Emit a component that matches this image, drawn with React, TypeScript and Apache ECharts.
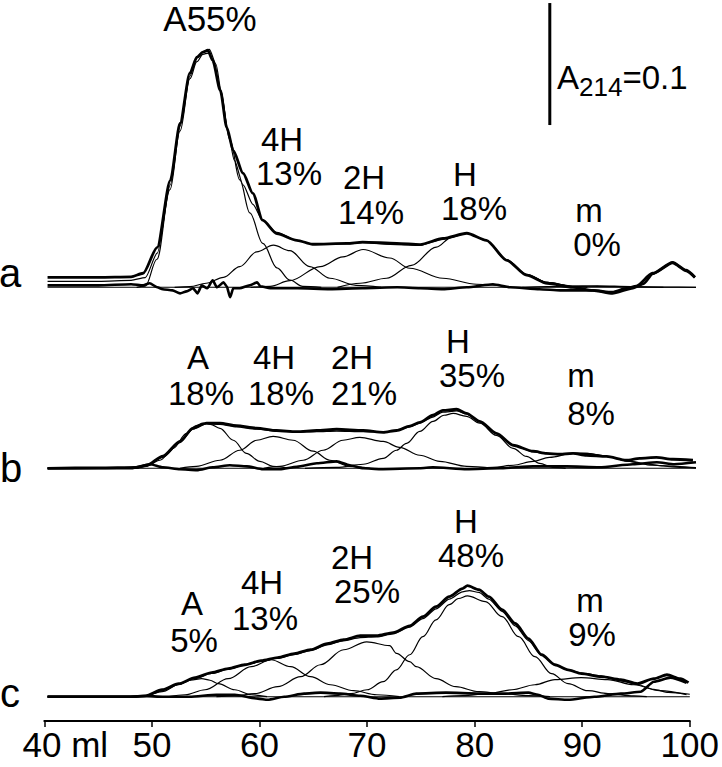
import React, { useEffect, useRef } from "react";
import * as echarts from "echarts";

// ---------- data (x: elution volume, ml; y: A214 in milli-absorbance units) ----------
const xTicks = [40, 50, 60, 70, 80, 90, 100];
const peakNames = ["A", "4H", "2H", "H", "m"];
const panelNames = ["a", "b", "c"];
const pctA = [55, 13, 14, 18, 0];
const pctB = [18, 18, 21, 35, 8];
const pctC = [5, 13, 25, 48, 9];
const scaleBar = [[86.54, 133], [86.54, 233]]; // A214 = 0.1 (100 mAU)
const baselineSpan = [[40.3, 0], [100, 0]];

// panel a
const aTotal = [[40.3,8.2],[45,8.2],[48,8.6],[49.1,11.5],[50.4,32.8],[51.6,87.7],[52.5,134.5],[53.4,175.5],[54.05,188.6],[54.6,192.7],[55.06,194.3],[55.5,186],[56.2,161.5],[56.8,131],[57.4,112],[58.3,93.5],[59.2,77],[60.1,55],[61.4,44],[63.25,38.5],[64.7,35.3],[67.85,36],[69.3,37],[72.45,36],[74.6,35],[76.7,40],[78.9,44.3],[80.7,38.5],[82.6,22],[84.4,10],[86.3,3.3],[88.65,0],[90.5,-2.5],[92.3,-4],[93.6,-1],[94.5,1],[96.0,11.5],[97.85,20.5],[99.1,14],[99.9,8.2]];
const aFit = [[40.3,4.9],[45,4.9],[48,5.7],[49.3,8],[50.4,28],[51.6,84],[52.5,132],[53.4,173],[54.05,188],[54.6,193],[55.2,195],[55.8,183],[56.3,160],[56.9,128],[57.5,104],[58.3,84],[59.2,68],[60.1,55],[61.4,45],[63.25,38.5],[64.7,35.5],[67.85,35.5],[69.3,36.5],[72.45,35],[74.6,34.5],[76.7,39.5],[78.9,44.3],[80.7,38.5],[82.6,22.5],[84.4,10.5],[86.3,4],[88.65,1],[91,0.8],[94,0.4],[97,0.1],[100,0]];
const aA = [[48.5,0],[49.3,1],[50.37,23],[51.57,80],[52.49,128],[53.41,171],[54.05,185],[54.6,191],[55.1,192],[55.6,185],[56.17,162],[57.09,121],[58.0,88],[58.92,61],[60.12,36],[61.41,16],[62.6,6],[63.8,0.8],[65.5,0]];
const a4H = [[52,0],[53.4,0.5],[54.9,3.3],[56.5,8.2],[58,17],[59.55,29],[61.1,34.5],[62.6,30],[64.45,17],[66.3,7.4],[68.7,1.6],[71,0]];
const a2H = [[59,0],[60.8,0.8],[62.6,5.4],[65.4,17],[67.5,25],[69.35,31],[71.8,24],[73.65,15.6],[76.7,7.4],[79.8,2.5],[83,0]];
const aH = [[67,0],[69.1,3.3],[71.5,7.4],[73.8,18],[76.1,33],[77.5,41],[78.9,44.3],[80.7,38.5],[82.6,22],[84.4,10.7],[86.3,4],[88.6,0.8],[90,0]];
const am = [[84,0],[88,0.8],[91,1.2],[94,0.6],[97,0]];
const aRes = [[40.3,1.6],[45,1.6],[48,2.5],[49.1,1.6],[49.7,3.3],[50.4,0],[50.9,-1.6],[51.8,-2.5],[52.5,-5],[53.1,-3.3],[53.7,-0.8],[54.1,-5],[54.5,1.6],[55.0,-0.8],[55.5,5.7],[55.9,0],[56.5,4],[56.8,0.8],[57.1,-8.2],[57.4,-0.8],[58.0,-0.8],[58.9,1.6],[59.6,4],[59.9,0.8],[60.8,-0.8],[63.3,-0.8],[66.3,-1.6],[69.3,-0.8],[72.5,0],[74.6,-0.8],[76.7,-1.6],[78.9,0],[81.3,2.5],[82.9,0],[85.6,-1.6],[87.5,-2.5],[90.5,-2.5],[92.3,-5],[94.2,-0.8],[95.2,3],[96.0,11],[97.85,20],[99.1,13.5],[99.9,8]];

// panel b
const bTotal = [[40.3,0],[45,0.4],[48.5,0.8],[49.42,2.5],[50.92,10],[52.49,22],[53.68,33],[54.94,37],[56.17,37],[57.7,35],[59.55,33],[61.39,31],[63.23,30],[65.07,31],[66.91,32],[69.36,31],[71.2,29.5],[72.43,31],[73.65,34.5],[74.57,37.7],[75.77,43.5],[76.69,47.5],[77.95,48.4],[78.87,45],[80.09,38.5],[81.63,28.7],[83.16,18.9],[85.0,14],[86.23,12.3],[87.46,11.5],[88.68,12.3],[89.91,10.7],[91.75,9.8],[93.59,6.6],[94.82,8.2],[96.35,9],[97.88,7.4],[99.72,6.6]];
const bFit = [[40.3,0],[48.5,0.4],[49.42,2],[50.92,9],[52.49,21],[53.68,32],[54.94,36.5],[56.17,36],[57.7,34],[59.55,32],[61.39,30.5],[63.23,29.5],[65.07,30],[66.91,30.5],[69.36,30],[71.2,29.5],[72.43,31],[73.65,34],[74.57,37],[75.77,42],[76.69,46],[77.95,47],[78.87,44.5],[80.09,38],[81.63,28.5],[83.16,19],[85.0,13.5],[86.23,12],[87.46,12],[88.68,12.5],[89.91,12.3],[91.75,10],[93.59,6],[95,4],[97,2],[100,0.5]];
const bA = [[48.5,0],[49.4,1.6],[50.65,6.6],[51.87,16.4],[53.1,28.7],[54.0,35],[54.6,37],[55.3,36],[56.17,32.8],[57.4,23],[58.6,12.3],[59.85,5.7],[61.05,1.6],[62.5,0]];
const b4H = [[52.5,0],[54.0,1.6],[56.17,6.6],[58.0,14.8],[59.55,23],[61.07,26.2],[62.9,23],[64.75,14],[66.3,6.6],[68.1,1.6],[70,0]];
const b2H = [[60.2,0],[61.7,1.6],[63.83,6.6],[65.67,14.8],[67.5,23],[69.05,25.4],[71.2,22],[72.7,17.2],[74.57,10.7],[76.4,5.7],[78.9,1.6],[81.3,0]];
const bH = [[64,0],[66.9,0.8],[69.36,3.3],[71.2,8.2],[72.43,14.8],[73.35,20.5],[74.57,30.3],[75.8,38.5],[76.8,43.5],[77.64,45],[78.87,42.6],[80.09,37],[81.63,27],[83.16,16.4],[84.39,9.8],[85.6,4.1],[86.8,0.8],[88,0]];
const bm = [[80,0],[81.3,0.8],[83.2,2.5],[85.0,5.7],[86.5,9],[88.68,12.3],[90,12.3],[91.75,9.8],[93.9,5.7],[96.0,2.5],[98.8,0.8],[100,0.4]];
const bRes = [[40.3,0],[48,0],[49.73,3.3],[50.92,0.8],[52.49,-0.8],[54.05,-1.6],[55.52,0.8],[57.09,2.5],[58.65,1.6],[60.12,-0.8],[61.69,-0.8],[63.25,1.3],[65.1,4.1],[66.93,5.7],[68.13,2.5],[69.36,0],[70.92,-0.8],[74.57,0],[75.77,0.8],[78.9,-0.8],[81.9,0],[85.0,1.6],[88.1,1.6],[91.1,0.8],[94.2,3.3],[96.4,5],[98,3.3],[100,4.9]];

// panel c
const cTotal = [[40.3,0],[48,0],[49.4,0.6],[50.95,5.7],[52.49,10.7],[54.02,15.6],[55.55,19.7],[57.09,23],[58.63,26.2],[60.15,29.5],[61.69,32],[63.23,35.3],[64.75,38.5],[66.29,43.5],[67.83,46.7],[69.36,50],[70.89,50],[72.43,52.5],[73.96,58],[75.19,65.6],[76.41,73.8],[77.64,82],[78.87,88.6],[79.33,91],[80.4,87.7],[81.32,82],[82.55,71.3],[83.78,60],[85.0,47.6],[86.23,34.4],[87.46,26.2],[88.68,22],[89.91,18.9],[91.75,16.4],[93.59,13.9],[95.12,10.7],[96.66,14.8],[97.88,18],[99.11,14.8],[99.88,11.5]];
const cFit = [[40.3,0],[48,0],[49.4,0.6],[50.95,5],[52.49,10.2],[54.02,15.2],[55.55,19],[57.09,22.5],[58.63,25.8],[60.15,29],[61.69,31.5],[63.23,34.5],[64.75,38],[66.29,42.5],[67.83,46],[69.36,48.5],[70.89,49],[72.43,51.5],[73.96,57],[75.19,64],[76.41,72],[77.64,80],[78.87,86],[79.5,87],[80.4,85.5],[81.32,80],[82.55,70],[83.78,58],[85.0,46],[86.23,34],[87.46,26],[88.68,22],[89.91,19.5],[91.75,17],[93.59,13],[95.12,10],[96.66,6],[98,3.5],[100,2]];
const cA = [[48,0],[49.4,0.8],[50.95,4.1],[52.49,9.8],[53.6,13.5],[54.63,14.8],[55.4,13.5],[56.17,10.7],[57.7,5.7],[59.23,1.6],[60.7,0]];
const c4H = [[51.6,0],[53.1,1.6],[54.94,5.7],[57.09,14.8],[59.23,24.6],[61.07,30.3],[62.9,24.6],[64.75,16.4],[66.6,9.8],[68.75,4.9],[70.9,1.6],[73,0]];
const c2H = [[56,0],[57.7,0.6],[59.55,2.5],[61.69,8.2],[63.83,16.4],[65.67,26.2],[67.83,38.5],[69.97,45],[72.1,41.8],[72.73,35.5],[73.96,28.7],[74.57,24.6],[76.41,14.8],[78.25,8.2],[80.4,4.1],[82.5,2.5],[85,0.8],[87,0]];
const cH = [[66,0],[67,0.8],[68.5,2.5],[70,5.7],[71.5,12.3],[72.73,22],[73.96,34.4],[75.19,49.2],[76.41,63],[77.64,75.4],[78.5,80.5],[79.33,82.6],[81.0,78],[82.55,65.6],[84.09,49.2],[85.6,32.8],[87.15,18.9],[88.68,10.7],[90.52,4.9],[92.4,2.5],[94.8,0.6],[96,0]];
const cm = [[77,0],[78.9,0.8],[81.3,2.5],[83.47,5.7],[85.6,9.8],[87.46,14],[89.9,15.6],[92.36,14],[94.8,9.8],[97.2,4.9],[99.7,1.6]];
const cRes = [[40.3,0],[48,0],[49.4,0.6],[51,0],[53.5,0],[56,1.6],[57.7,1.6],[59.85,-1.6],[60.77,-2.5],[62.3,0],[64.15,2.5],[65.67,3.3],[67.5,2.5],[69.36,0.8],[71.2,-1.6],[73.04,-0.8],[74.57,2.5],[77.33,3.3],[80.4,2.5],[82.86,2.5],[85.0,3.3],[85.9,1.6],[86.84,-1.6],[88.68,-2.5],[91.14,0],[93.59,2.5],[95.43,4.1],[96.66,12.3],[98.2,15.6],[99.7,11.5]];

// ---------- layout ----------
const W = 722;
const H = 767;
const PX_PER_UNIT = 1.22; // px per mAU
const FONT = '"Liberation Sans", Arial, Helvetica, sans-serif';
const LEFT = 44.3;
const RIGHT = 26;
const panelLayout = [
  { base: 287.3, yMax: 235 },
  { base: 468.3, yMax: 100 },
  { base: 696.7, yMax: 140 },
];
const Y_MIN = -20;
const letterPos = [[10, 273], [11, 468], [10, 693]];
// [nameX, nameY, pctX, pctY] per peak
const labelPos = [
  [[210, 18, 0, 0], [282, 140, 289, 172], [364, 177, 371, 212], [465, 176, 474, 207], [589, 211, 597, 244]],
  [[198, 357, 201, 393], [274, 357, 281, 393], [352, 357, 364, 393], [458, 342, 472, 375], [581, 375, 591, 413]],
  [[192, 603, 194, 640], [262, 582, 265, 618], [352, 559, 367, 590], [466, 521, 471, 555], [590, 602, 592, 633]],
];
const LABEL_SIZE = 33;
const MIN_GAP = 34;

function txt(text: string, x: number, y: number, size = 34, lh = 26, align = "center") {
  return {
    type: "text",
    x,
    y,
    silent: true,
    style: {
      text,
      fontSize: size,
      lineHeight: lh,
      fontFamily: FONT,
      fill: "#000",
      align,
      verticalAlign: "middle",
      textAlign: align,
      textVerticalAlign: "middle",
    },
  };
}

// two-line peak label: name above percentage
function label2(name: string, pct: string, nx: number, ny: number, px: number, py: number) {
  const extra = Math.max(0, MIN_GAP - (py - ny)) / 2;
  return [
    txt(name, nx, ny - extra, LABEL_SIZE, 28),
    txt(pct, px, py + extra, LABEL_SIZE, 28),
  ];
}

function line(data: number[][], i: number, width: number, smooth: number | boolean) {
  return {
    type: "line",
    xAxisIndex: i,
    yAxisIndex: i,
    data,
    showSymbol: false,
    symbol: "none",
    silent: true,
    smooth,
    smoothMonotone: "x",
    lineStyle: { color: "#000", width },
    z: width > 1.5 ? 3 : 2,
  };
}

function buildOption() {
  const panels = [
    { total: aTotal, fit: aFit, comps: [aA, a4H, a2H, aH, am], res: aRes, pct: pctA },
    { total: bTotal, fit: bFit, comps: [bA, b4H, b2H, bH, bm], res: bRes, pct: pctB },
    { total: cTotal, fit: cFit, comps: [cA, c4H, c2H, cH, cm], res: cRes, pct: pctC },
  ];
  const grid: any[] = [];
  const xAxis: any[] = [];
  const yAxis: any[] = [];
  const series: any[] = [];
  const graphic: any[] = [];

  panels.forEach((p, i) => {
    const L = panelLayout[i];
    const top = L.base - L.yMax * PX_PER_UNIT;
    const bottomPx = L.base - Y_MIN * PX_PER_UNIT;
    grid.push({ left: LEFT, right: RIGHT, top, bottom: H - bottomPx });
    const isLast = i === panels.length - 1;
    xAxis.push({
      type: "value",
      gridIndex: i,
      min: xTicks[0],
      max: xTicks[xTicks.length - 1],
      interval: 10,
      show: isLast,
      splitLine: { show: false },
      axisLine: { show: isLast, onZero: false, lineStyle: { color: "#000", width: 2 } },
      axisTick: { show: isLast, length: 6, lineStyle: { color: "#000", width: 1.5 } },
      axisLabel: {
        show: isLast,
        margin: 6,
        color: "#000",
        fontSize: 35,
        fontFamily: FONT,
        formatter: (v: number) => (v === xTicks[0] ? "{f|" + v + " ml}" : String(v)),
        rich: { f: { fontSize: 35, fontFamily: FONT, color: "#000", padding: [0, 0, 0, 42] } },
      },
    });
    yAxis.push({ type: "value", gridIndex: i, min: Y_MIN, max: L.yMax, show: false, splitLine: { show: false } });

    series.push(line(baselineSpan, i, 1.1, false));
    p.comps.forEach((c) => series.push(line(c, i, 1.2, 0.35)));
    series.push(line(p.fit, i, 1.2, 0.25));
    series.push(line(p.res, i, 2.6, 0.2));
    series.push(line(p.total, i, 2.8, 0.25));

    graphic.push(txt(panelNames[i], letterPos[i][0], letterPos[i][1], 40, 30));
    peakNames.forEach((n, k) => {
      const pos = labelPos[i][k];
      if (i === 0 && k === 0) {
        graphic.push(txt(n + p.pct[k] + "%", pos[0], pos[1], 35));
      } else {
        graphic.push(...label2(n, p.pct[k] + "%", pos[0], pos[1], pos[2], pos[3]));
      }
    });
  });

  // A214 scale bar in panel a
  series.push({ ...line(scaleBar, 0, 3, false), smooth: false });
  graphic.push({
    type: "text",
    x: 557,
    y: 77,
    silent: true,
    style: {
      text: "{n|A}{s|214}{n|=0.1}",
      align: "left",
      verticalAlign: "middle",
      textAlign: "left",
      textVerticalAlign: "middle",
      fill: "#000",
      fontFamily: FONT,
      fontSize: 33,
      rich: {
        n: { fontSize: 33, lineHeight: 30, fontFamily: FONT, fill: "#000", color: "#000" },
        s: { fontSize: 26, lineHeight: 26, fontFamily: FONT, fill: "#000", color: "#000", padding: [20, 0, 0, 0] },
      },
    },
  });

  return {
    animation: false,
    backgroundColor: "#fff",
    grid,
    xAxis,
    yAxis,
    series,
    graphic,
  };
}

export default function App() {
  const ref = useRef<HTMLDivElement>(null);
  useEffect(() => {
    if (!ref.current) return;
    const chart = echarts.init(ref.current, undefined, { renderer: "svg", width: W, height: H });
    chart.setOption(buildOption() as any);
    return () => chart.dispose();
  }, []);
  return <div ref={ref} style={{ width: W, height: H, position: "absolute", left: 0, top: 0 }} />;
}
